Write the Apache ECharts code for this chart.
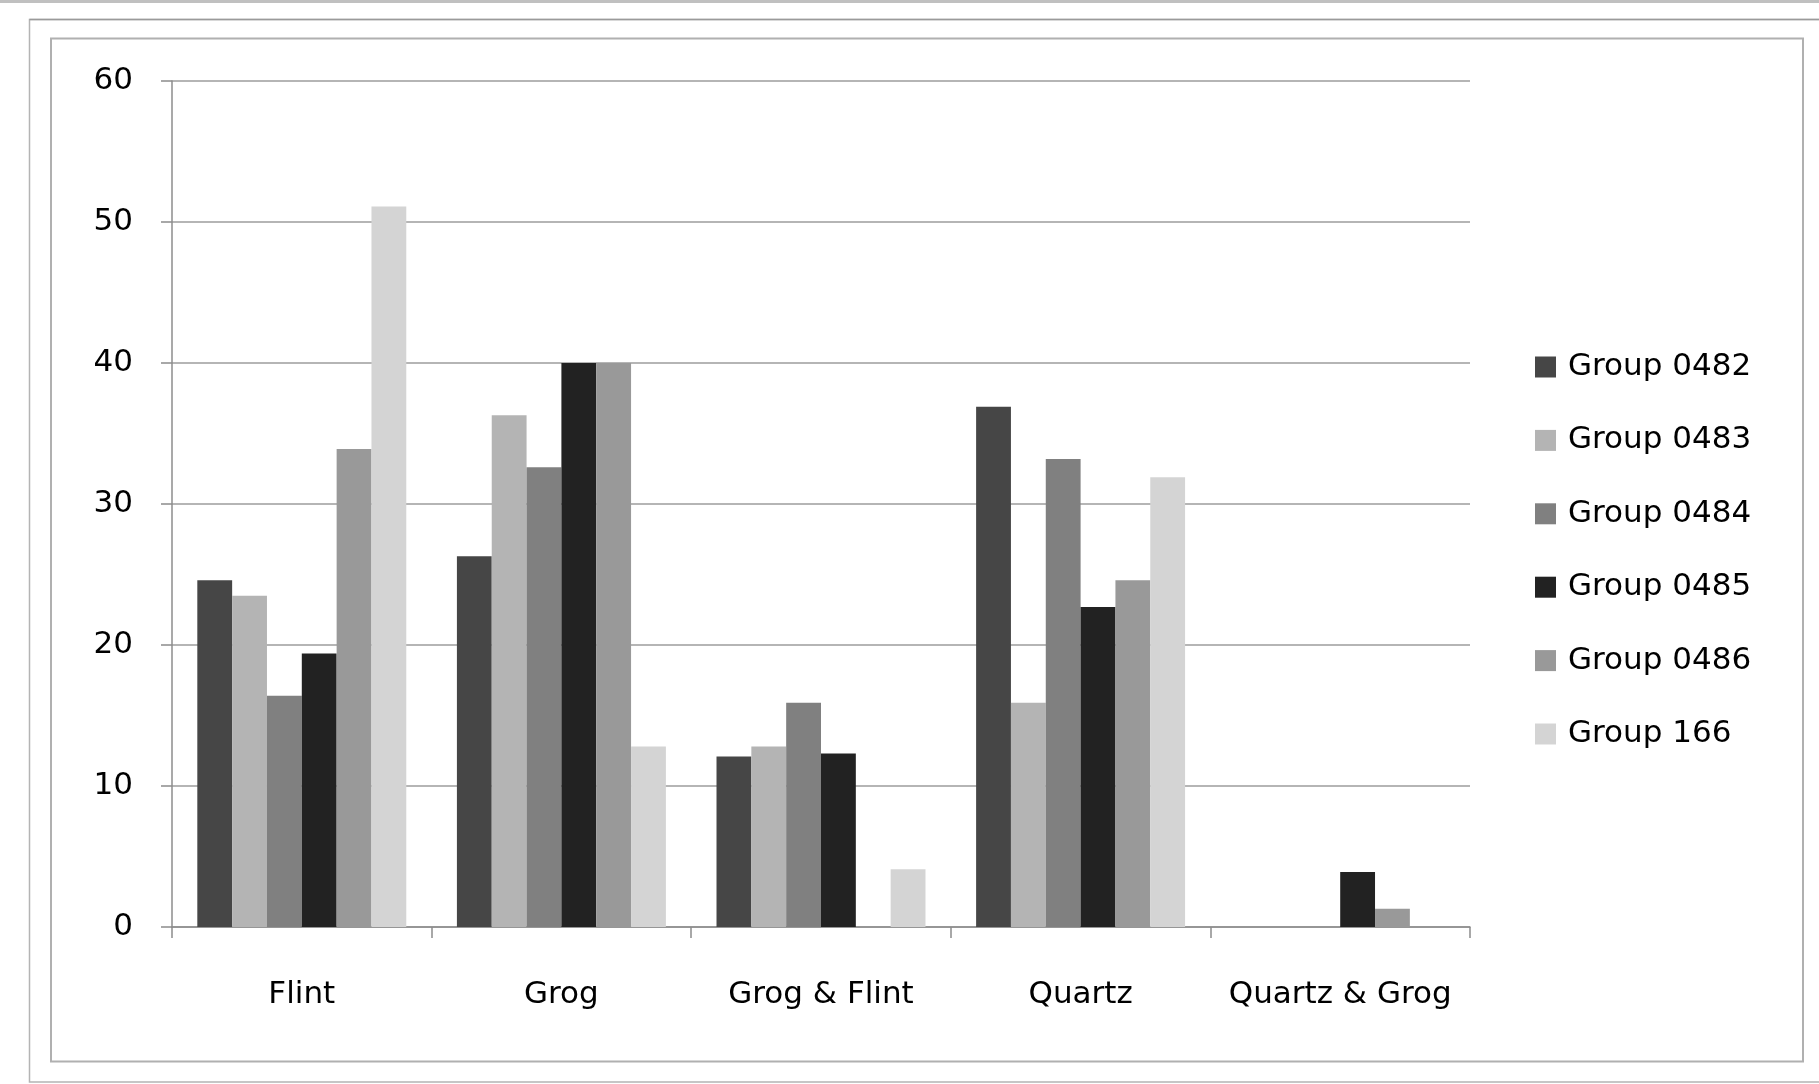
<!DOCTYPE html>
<html>
<head>
<meta charset="utf-8">
<script src="https://cdn.jsdelivr.net/npm/echarts@6/dist/echarts.min.js"></script>
<style>
html,body{margin:0;padding:0;background:#fff;}
#chart{width:1819px;height:1084px;}
</style>
</head>
<body>
<div id="chart"></div>
<script>
const categories = ['Flint', 'Grog', 'Grog & Flint', 'Quartz', 'Quartz & Grog'];
const seriesNames = ['Group 0482', 'Group 0483', 'Group 0484', 'Group 0485', 'Group 0486', 'Group 166'];
const group0482 = [24.6, 26.3, 12.1, 36.9, 0];
const group0483 = [23.5, 36.3, 12.8, 15.9, 0];
const group0484 = [16.4, 32.6, 15.9, 33.2, 0];
const group0485 = [19.4, 40.0, 12.3, 22.7, 3.9];
const group0486 = [33.9, 40.0, 0, 24.6, 1.3];
const group166  = [51.1, 12.8, 4.1, 31.9, 0];
const yTicks = [0, 10, 20, 30, 40, 50, 60];

const seriesValues = [group0482, group0483, group0484, group0485, group0486, group166];
const colors = ['#464646', '#b4b4b4', '#808080', '#222222', '#999999', '#d4d4d4'];
const FONT = 'DejaVu Sans';

const chart = echarts.init(document.getElementById('chart'), null, {renderer: 'canvas'});
chart.setOption({
  animation: false,
  backgroundColor: '#ffffff',
  color: colors,
  textStyle: {fontFamily: FONT},
  graphic: [
    {type: 'rect', shape: {x: 0, y: 0, width: 1819, height: 3}, style: {fill: '#c0c0c0'}, silent: true},
    {type: 'polyline', shape: {points: [[1819, 19.5], [29.5, 19.5], [29.5, 1082], [1819, 1082]]},
     style: {stroke: '#b4b4b4', lineWidth: 1.5, fill: null}, silent: true},
    {type: 'line', shape: {x1: 29.5, y1: 19.5, x2: 1819, y2: 19.5}, style: {stroke: '#9a9a9a', lineWidth: 1.5}, silent: true},
    {type: 'rect', shape: {x: 51, y: 38.5, width: 1752, height: 1023},
     style: {stroke: '#b0b0b0', lineWidth: 2, fill: null}, silent: true}
  ],
  grid: {left: 172, right: 349, top: 81, bottom: 157, containLabel: false},
  legend: {
    data: seriesNames,
    orient: 'vertical',
    left: 1530,
    top: 342,
    icon: 'rect',
    itemWidth: 21,
    itemHeight: 21,
    itemGap: 33.4,
    selectedMode: false,
    textStyle: {fontFamily: FONT, fontSize: 31, color: '#000', lineHeight: 40, padding: [0, 0, 0, 7]}
  },
  xAxis: {
    type: 'category',
    data: categories,
    axisLine: {lineStyle: {color: '#8c8c8c', width: 1.5}},
    axisTick: {show: true, alignWithLabel: false, length: 11, lineStyle: {color: '#8c8c8c', width: 1.5}},
    axisLabel: {fontFamily: FONT, fontSize: 31, color: '#000', margin: 52, interval: 0},
    splitLine: {show: false}
  },
  yAxis: {
    type: 'value',
    min: 0,
    max: 60,
    interval: 10,
    axisLine: {show: true, lineStyle: {color: '#8c8c8c', width: 1.5}},
    axisTick: {show: true, length: 11, lineStyle: {color: '#8c8c8c', width: 1.5}},
    axisLabel: {fontFamily: FONT, fontSize: 31, color: '#000', margin: 39, padding: [5, 0, 0, 0],
      formatter: v => yTicks.includes(v) ? String(v) : ''},
    splitLine: {show: true, lineStyle: {color: '#9c9c9c', width: 1.5}}
  },
  series: seriesNames.map((name, i) => ({
    name: name,
    type: 'bar',
    data: seriesValues[i],
    barGap: '0%',
    barCategoryGap: '19.5%',
    itemStyle: {color: colors[i]}
  }))
});
</script>
</body>
</html>
